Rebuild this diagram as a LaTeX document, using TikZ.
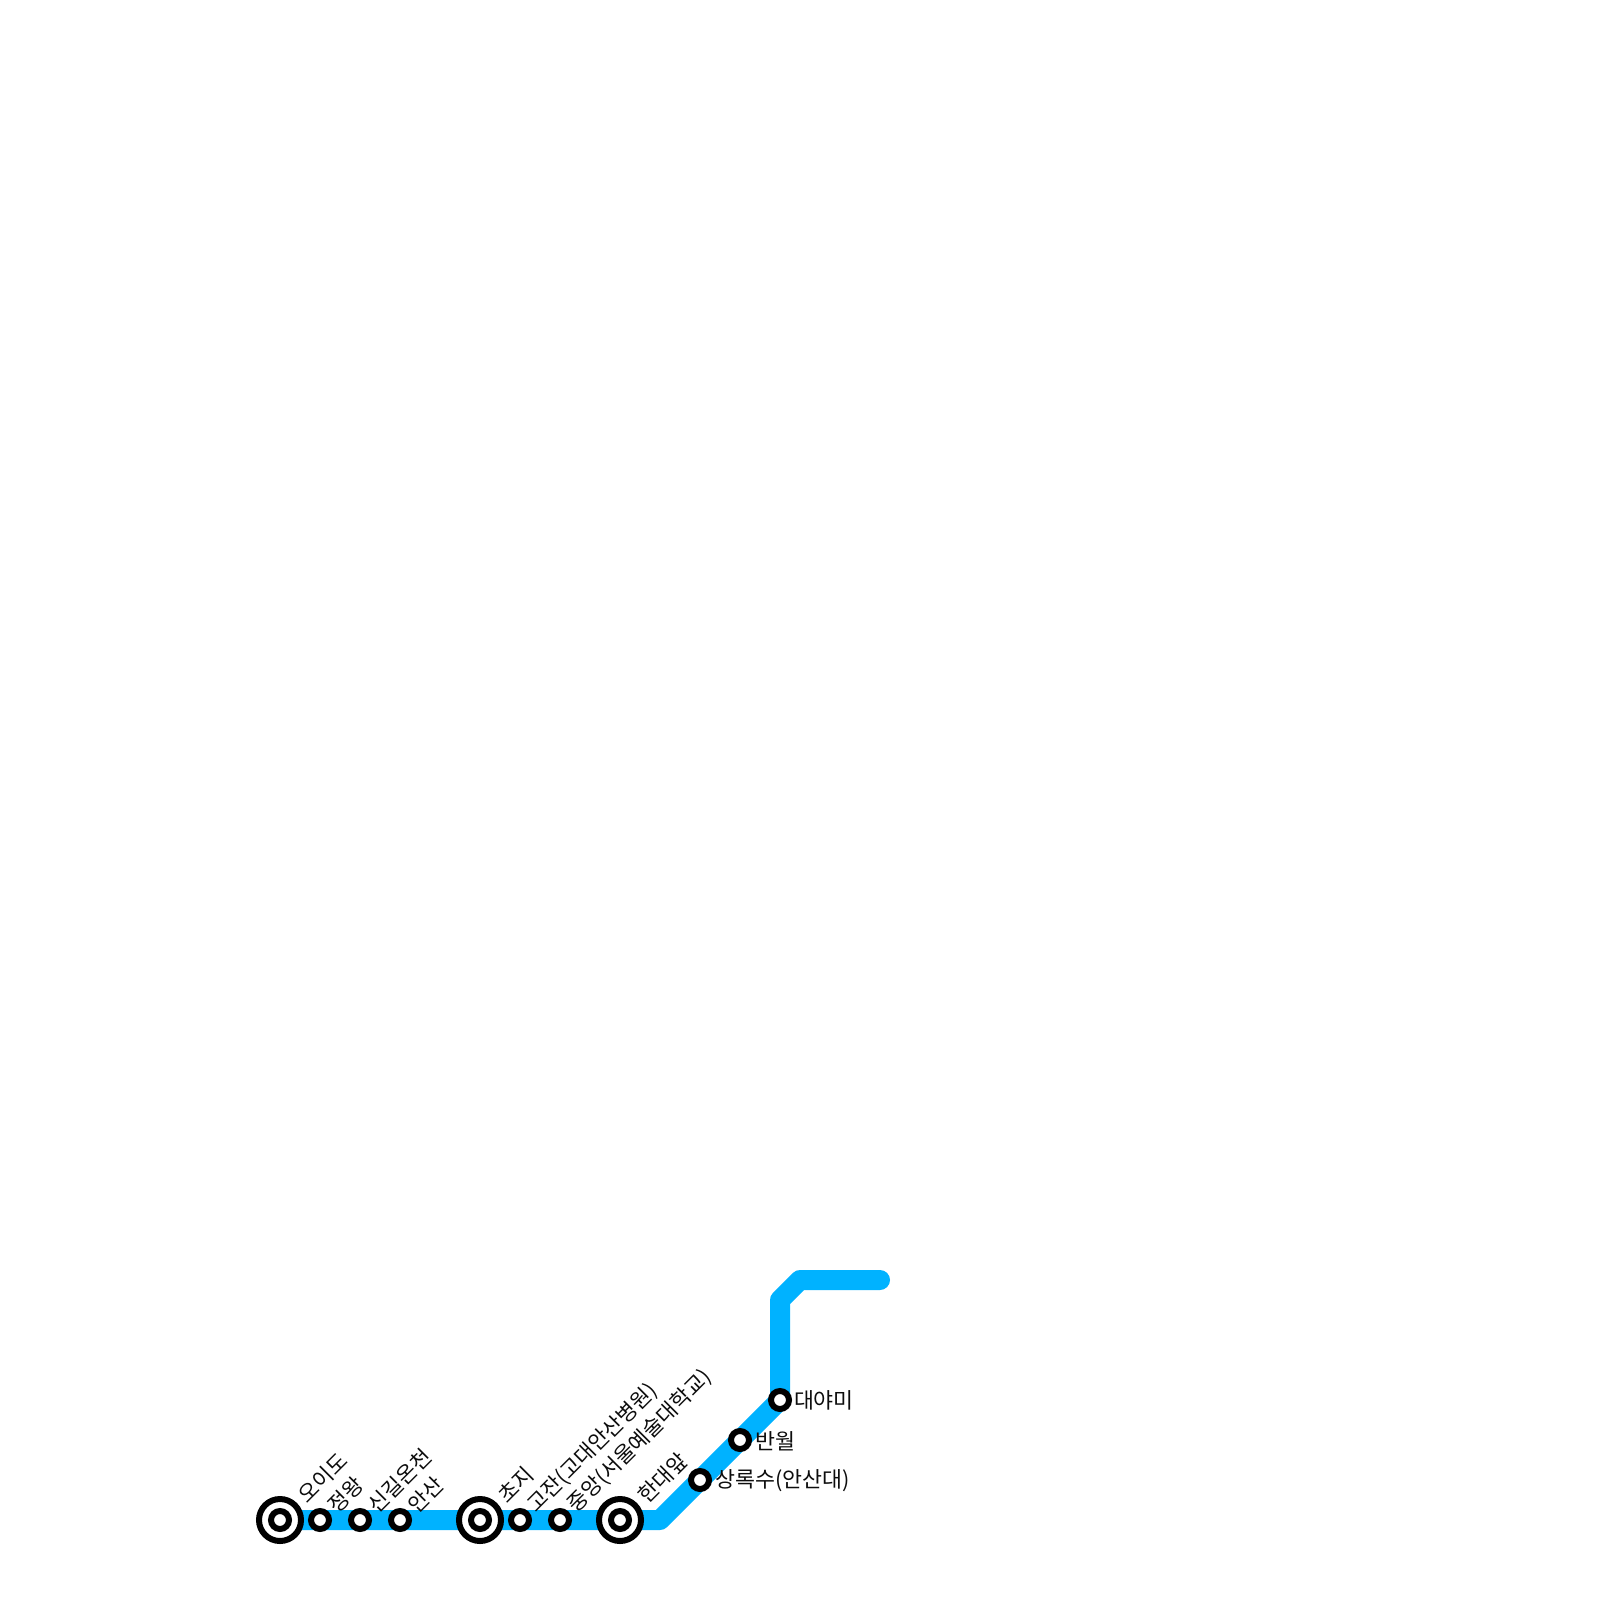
\documentclass[tikz,border=0pt]{standalone}
\usepackage{fontspec}
\newfontfamily\krfont{Noto Sans CJK KR}
\definecolor{linecol}{RGB}{0,178,255}
\tikzset{
  x=1pt,y=-1pt,
  routeline/.style={draw=linecol,line width=20pt,line cap=round,line join=round},
  smallst/.style={circle,draw=black,fill=white,line width=6pt,minimum size=18pt,inner sep=0pt,outer sep=0pt},
  bigst/.style={circle,draw=black,fill=white,line width=6pt,minimum size=42pt,inner sep=0pt,outer sep=0pt},
  lab/.style={font=\krfont\fontsize{21.7pt}{26pt}\selectfont,text=black!95,inner sep=0pt,outer sep=0pt,anchor=west},
  ulab/.style={lab,font=\krfont\fontsize{21.4pt}{26pt}\selectfont,rotate=45},
}
\begin{document}
\begin{tikzpicture}
\useasboundingbox (0,0) rectangle (1600,1600);
\fill[white] (0,0) rectangle (1600,1600);
\coordinate (b1) at (660,1520);
\coordinate (b2) at (780,1300);
\coordinate (b3) at (800,1280);
\coordinate (e) at (880,1280);
\coordinate (s) at (280,1520);
\coordinate (d) at (780,1400);
\draw[routeline] (s) -- (b1) -- (d) -- (b2) -- (b3) -- (e);
\node[bigst] (n1) at (280,1520) {};
\node[smallst] at (n1) {};
\node[smallst] (n2) at (320,1520) {};
\node[smallst] (n3) at (360,1520) {};
\node[smallst] (n4) at (400,1520) {};
\node[bigst] (n5) at (480,1520) {};
\node[smallst] at (n5) {};
\node[smallst] (n6) at (520,1520) {};
\node[smallst] (n7) at (560,1520) {};
\node[bigst] (n8) at (620,1520) {};
\node[smallst] at (n8) {};
\node[smallst] (n9) at (700,1480) {};
\node[smallst] (n10) at (740,1440) {};
\node[smallst] (n11) at (780,1400) {};
\node[ulab] (t1) at (302,1499) {오이도};
\node[ulab] (t2) at (332,1509) {정왕};
\node[ulab] (t3) at (372,1509) {신길온천};
\node[ulab] (t4) at (412,1509) {안산};
\node[ulab] (t5) at (502,1499) {초지};
\node[ulab] (t6) at (532,1509) {고잔(고대안산병원)};
\node[ulab] (t7) at (572,1509) {중앙(서울예술대학교)};
\node[ulab] (t8) at (642,1499) {한대앞};
\node[lab] (t9) at (715.5,1481) {상록수(안산대)};
\node[lab] (t10) at (755.5,1441) {반월};
\node[lab] (t11) at (794,1400.5) {대야미};
\end{tikzpicture}
\end{document}
